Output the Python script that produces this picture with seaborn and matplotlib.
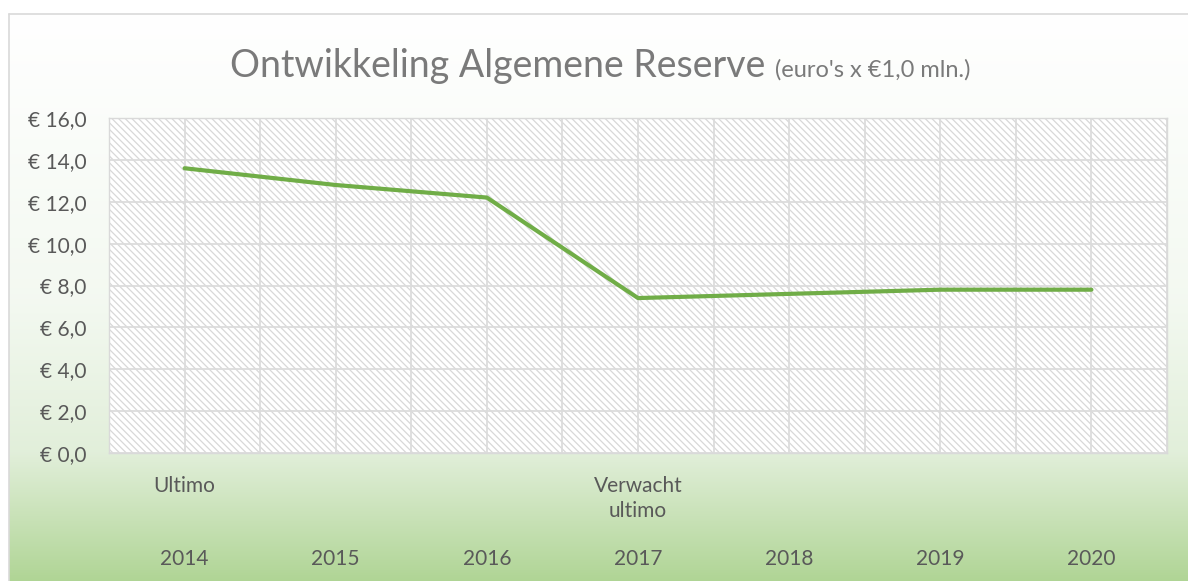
import numpy as np
import pandas as pd
import matplotlib
matplotlib.use('Agg')
import matplotlib.pyplot as plt
import seaborn as sns
from matplotlib.patches import Rectangle
from matplotlib.ticker import FuncFormatter, FixedLocator
from matplotlib.transforms import blended_transform_factory

# data
years = ['2014', '2015', '2016', '2017', '2018', '2019', '2020']
status = ['Ultimo', '', '', 'Verwacht\nultimo', '', '', '']
reserve = [13.6, 12.8, 12.2, 7.4, 7.6, 7.8, 7.8]

TITLE = 'Ontwikkeling Algemene Reserve'
SUBTITLE = "(euro's x €1,0 mln.)"

sns.set_style('white')
plt.rcParams['font.family'] = ['Lato', 'DejaVu Sans']
plt.rcParams['hatch.linewidth'] = 0.9

W, H = 1188, 581
fig = plt.figure(figsize=(W / 100, H / 100), dpi=100)
fig.patch.set_facecolor('white')

# chart area background: white -> green gradient with a thin border
bg = fig.add_axes([0, 0, 1, 1], zorder=-1)
bg.axis('off')
stops_y = [14, 300, 453, 581]
stops_c = np.array([[1.0, 1.0, 1.0],
                    [0.955, 0.976, 0.945],
                    [0.885, 0.937, 0.855],
                    [0.69, 0.835, 0.585]])
yy = np.arange(14, H + 1)
grad = np.stack([np.interp(yy, stops_y, stops_c[:, i]) for i in range(3)], axis=-1)[:, None, :]
bg.imshow(grad, extent=[9, W, H, 14], aspect='auto', interpolation='bilinear')
bg.plot([9, W], [14, 14], color='#d9d9d9', lw=1.2)
bg.plot([9, 9], [14, H], color='#d9d9d9', lw=1.2)
bg.set_xlim(0, W)
bg.set_ylim(H, 0)

# plot area
ax = fig.add_axes([109 / W, 1 - 453 / H, (1167 - 109) / W, (453 - 118) / H])
ax.set_facecolor('white')
ax.add_patch(Rectangle((0, 0), 1, 1, transform=ax.transAxes, facecolor='white',
                       edgecolor='#d8d8d8', hatch='\\' * 5, lw=0, zorder=0.1))

df = pd.DataFrame({'jaar': years, 'reserve': reserve})
sns.lineplot(data=df, x='jaar', y='reserve', sort=False, color='#70ad47',
             linewidth=3, solid_capstyle='round', ax=ax, zorder=3)

ax.set_xlim(-0.5, len(years) - 0.5)
ax.set_ylim(0, 16)
ax.set_axisbelow(True)
ax.xaxis.set_major_locator(FixedLocator(np.arange(-0.5, len(years), 0.5)))
ax.set_xticklabels([])
ax.set_yticks(np.arange(0, 17, 2))
ax.yaxis.set_major_formatter(FuncFormatter(lambda v, p: f'€ {v:.1f}'.replace('.', ',')))
ax.tick_params(axis='both', length=0)
ax.tick_params(axis='y', labelsize=15, labelcolor='#595959', pad=16)
ax.grid(True, color='#dcdcdc', lw=1.3)
ax.set_xlabel('')
ax.set_ylabel('')
for s in ax.spines.values():
    s.set_color('#d9d9d9')
    s.set_linewidth(1)

# two-level category labels
tr = blended_transform_factory(ax.transData, fig.transFigure)
for i, (yr, st) in enumerate(zip(years, status)):
    if st:
        ax.text(i, 1 - 476 / H, st, transform=tr, ha='center', va='top',
                fontsize=15, color='#595959', linespacing=1.3)
    ax.text(i, 1 - 559 / H, yr, transform=tr, ha='center', va='center',
            fontsize=15, color='#595959')

# title with smaller unit note
fig.text(765 / W, 1 - 77 / H, TITLE, ha='right', va='baseline',
         fontsize=27, color='#7a7a7a')
fig.text(775 / W, 1 - 77 / H, SUBTITLE, ha='left', va='baseline',
         fontsize=17, color='#7a7a7a')

fig.savefig('out.png', dpi=100)
